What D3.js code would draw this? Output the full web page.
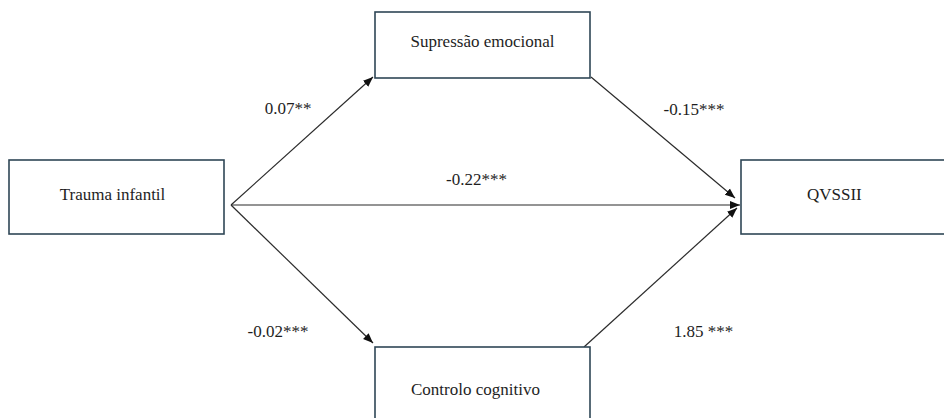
<!DOCTYPE html>
<html>
<head>
<meta charset="utf-8">
<script src="https://cdn.jsdelivr.net/npm/d3@7"></script>
<style>
  body { margin: 0; background: #fff; }
</style>
</head>
<body>
<svg id="chart" width="944" height="418"></svg>
<script>
/*
** Data - variables of the mediation model and the estimated paths
*/
var variables = ["Trauma infantil", "Supressão emocional", "QVSSII", "Controlo cognitivo"];
var roles     = ["preditor", "mediador", "resultado", "mediador"];
var levels    = ["centro", "topo", "centro", "base"];

var pathFrom     = [0, 0, 0, 1, 3];
var pathTo       = [1, 2, 3, 2, 2];
var coefficients = ["0.07**", "-0.22***", "-0.02***", "-0.15***", "1.85 ***"];

/*
** Layout
*/
var svg = d3.select("#chart")
  , font = "'Liberation Serif', 'Times New Roman', Tinos, 'DejaVu Serif', serif"
  , boxW = 215
  , boxH = { topo: 66, centro: 74, base: 74 }
  , x = d3.scalePoint().domain(["preditor", "mediador", "resultado"]).range([9, 741])
  , y = d3.scaleOrdinal().domain(["topo", "centro", "base"]).range([12, 160, 347])
  , ink = "#2b2b2b"
  , boxStroke = "#2f4656"
;

var nodes = variables.map(function(name, i) {
    return {
          name: name
        , x: x(roles[i])
        , y: y(levels[i])
        , w: boxW
        , h: boxH[levels[i]]
        , level: levels[i]
        , role: roles[i]
      };
  });

// where an arrow leaves / reaches a box
function startPoint(n) {
    if(n.level === "centro") return [n.x + n.w + 7, n.y + 45];
    if(n.level === "topo")   return [n.x + n.w + 1, n.y + n.h - 1];
    return [n.x + n.w - 6, n.y];
} // startPoint()

function endPoint(n, from) {
    if(n.level === "topo") return [n.x - 2, n.y + n.h - 1];
    if(n.level === "base") return [n.x - 2, n.y - 4];
    // outcome box: arrows converge on its left edge
    if(from.level === "topo") return [n.x - 6, n.y + 38];
    if(from.level === "base") return [n.x - 4, n.y + 48];
    return [n.x - 1, n.y + 45];
} // endPoint()

var paths = pathFrom.map(function(f, i) {
    var a = nodes[f], b = nodes[pathTo[i]];
    return { s: startPoint(a), t: endPoint(b, a), label: coefficients[i], from: a, to: b };
  });

// label placement relative to the middle of each path
function labelPoint(p) {
    var mx = (p.s[0] + p.t[0]) / 2, my = (p.s[1] + p.t[1]) / 2;
    if(p.to.level === "topo")   return [mx - 14, my - 27];
    if(p.to.level === "base")   return [mx - 24, my + 63];
    if(p.from.level === "topo") return [mx + 31, my - 23];
    if(p.from.level === "base") return [mx + 43, my + 59];
    return [mx - 9, my - 20];
} // labelPoint()

// text placement inside each box
function labelInBox(d) {
    if(d.role === "resultado") return { x: 66, y: 40, anchor: "start" };
    if(d.level === "topo")     return { x: d.w / 2, y: 35, anchor: "middle" };
    if(d.level === "base")     return { x: d.w / 2 - 7, y: 48, anchor: "middle" };
    return { x: d.w / 2 - 4, y: 40, anchor: "middle" };
} // labelInBox()

/*
** Drawing
*/
svg.append("defs").append("marker")
    .attr("id", "head")
    .attr("markerUnits", "userSpaceOnUse")
    .attr("viewBox", "0 -5 10 10")
    .attr("refX", 10)
    .attr("refY", 0)
    .attr("markerWidth", 10)
    .attr("markerHeight", 10)
    .attr("orient", "auto")
  .append("path")
    .attr("d", "M0,-4L10,0L0,4Z")
    .attr("fill", "#111")
;

svg.selectAll("line.path")
    .data(paths)
  .enter().append("line")
    .attr("class", "path")
    .attr("x1", function(d) { return d.s[0]; })
    .attr("y1", function(d) { return d.s[1]; })
    .attr("x2", function(d) { return d.t[0]; })
    .attr("y2", function(d) { return d.t[1]; })
    .attr("stroke", ink)
    .attr("stroke-width", 1.2)
    .attr("marker-end", "url(#head)")
;

var box = svg.selectAll("g.node")
    .data(nodes)
  .enter().append("g")
    .attr("class", "node")
    .attr("transform", function(d) { return "translate(" + d.x + "," + d.y + ")"; })
;
box.append("rect")
    .attr("width", function(d) { return d.w; })
    .attr("height", function(d) { return d.h; })
    .attr("fill", "#fff")
    .attr("stroke", boxStroke)
    .attr("stroke-width", 1.6)
;
box.append("text")
    .attr("x", function(d) { return labelInBox(d).x; })
    .attr("y", function(d) { return labelInBox(d).y; })
    .attr("text-anchor", function(d) { return labelInBox(d).anchor; })
    .attr("font-family", font)
    .attr("font-size", 17)
    .attr("fill", "#1e1e1e")
    .text(function(d) { return d.name; })
;

svg.selectAll("text.coef")
    .data(paths)
  .enter().append("text")
    .attr("class", "coef")
    .attr("x", function(d) { return labelPoint(d)[0]; })
    .attr("y", function(d) { return labelPoint(d)[1]; })
    .attr("text-anchor", "middle")
    .attr("font-family", font)
    .attr("font-size", 17)
    .attr("fill", "#1e1e1e")
    .text(function(d) { return d.label; })
;
</script>
</body>
</html>
